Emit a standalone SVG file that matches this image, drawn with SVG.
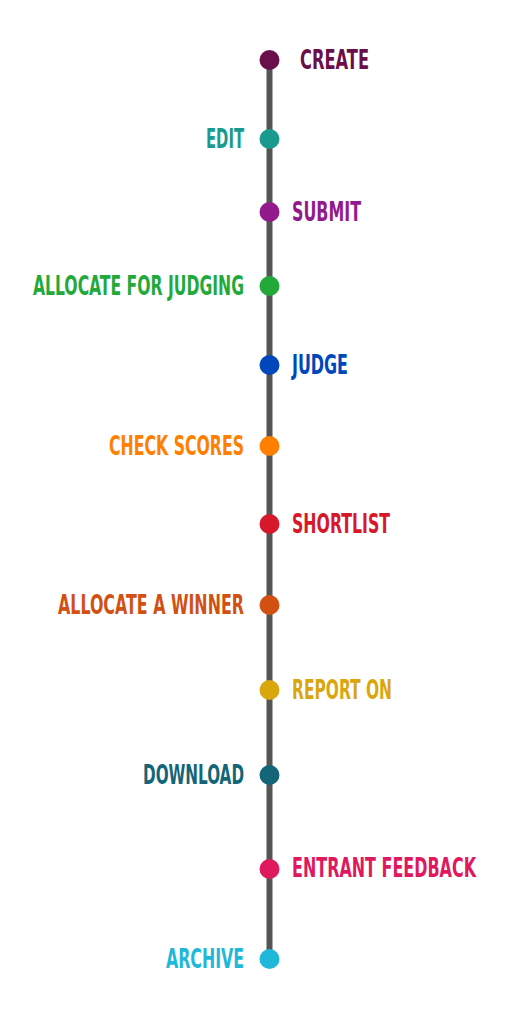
<svg xmlns="http://www.w3.org/2000/svg" width="512" height="1024" viewBox="0 0 512 1024">
<style>
text{font-family:"DejaVu Sans Condensed","DejaVu Sans","Liberation Sans",sans-serif;font-weight:bold;font-size:27px;font-stretch:condensed;text-anchor:start}
</style>
<rect width="512" height="1024" fill="#fff"/>
<g id="connectors">
<line x1="269.5" y1="60" x2="269.5" y2="959" stroke="#555555" stroke-width="6"/>
</g>
<g id="create"><circle cx="269.5" cy="60" r="10" fill="#6b0f4a"/><text transform="translate(300,69) scale(0.7,1)" fill="#6b0f4a" textLength="98.6" lengthAdjust="spacingAndGlyphs">CREATE</text></g>
<g id="edit"><circle cx="269.5" cy="139" r="10" fill="#1a9a8f"/><text transform="translate(206,148) scale(0.7,1)" fill="#1a9a8f" textLength="54.3" lengthAdjust="spacingAndGlyphs">EDIT</text></g>
<g id="submit"><circle cx="269.5" cy="212" r="10" fill="#931a8c"/><text transform="translate(292,221) scale(0.7,1)" fill="#931a8c" textLength="98.6" lengthAdjust="spacingAndGlyphs">SUBMIT</text></g>
<g id="allocate-judging"><circle cx="269.5" cy="286" r="10" fill="#22a93a"/><text transform="translate(33,295) scale(0.7,1)" fill="#22a93a" textLength="301.4" lengthAdjust="spacingAndGlyphs">ALLOCATE FOR JUDGING</text></g>
<g id="judge"><circle cx="269.5" cy="365" r="10" fill="#0047bb"/><text transform="translate(292,374) scale(0.7,1)" fill="#0047bb" textLength="80" lengthAdjust="spacingAndGlyphs">JUDGE</text></g>
<g id="check-scores"><circle cx="269.5" cy="446" r="10" fill="#ff8000"/><text transform="translate(109,455) scale(0.7,1)" fill="#ff8000" textLength="192.9" lengthAdjust="spacingAndGlyphs">CHECK SCORES</text></g>
<g id="shortlist"><circle cx="269.5" cy="524" r="10" fill="#d7182a"/><text transform="translate(292,533) scale(0.7,1)" fill="#d7182a" textLength="140" lengthAdjust="spacingAndGlyphs">SHORTLIST</text></g>
<g id="allocate-winner"><circle cx="269.5" cy="605" r="10" fill="#d35013"/><text transform="translate(58,614) scale(0.7,1)" fill="#d35013" textLength="265.7" lengthAdjust="spacingAndGlyphs">ALLOCATE A WINNER</text></g>
<g id="report-on"><circle cx="269.5" cy="690" r="10" fill="#d9a60e"/><text transform="translate(292,699) scale(0.7,1)" fill="#d9a60e" textLength="142.9" lengthAdjust="spacingAndGlyphs">REPORT ON</text></g>
<g id="download"><circle cx="269.5" cy="775" r="10" fill="#136577"/><text transform="translate(143,784) scale(0.7,1)" fill="#136577" textLength="144.3" lengthAdjust="spacingAndGlyphs">DOWNLOAD</text></g>
<g id="entrant-feedback"><circle cx="269.5" cy="869" r="10" fill="#e0185e"/><text transform="translate(292,877) scale(0.7,1)" fill="#e0185e" textLength="262.9" lengthAdjust="spacingAndGlyphs">ENTRANT FEEDBACK</text></g>
<g id="archive"><circle cx="269.5" cy="959" r="10" fill="#1fb8d9"/><text transform="translate(166,968) scale(0.7,1)" fill="#1fb8d9" textLength="111.4" lengthAdjust="spacingAndGlyphs">ARCHIVE</text></g>
</svg>
